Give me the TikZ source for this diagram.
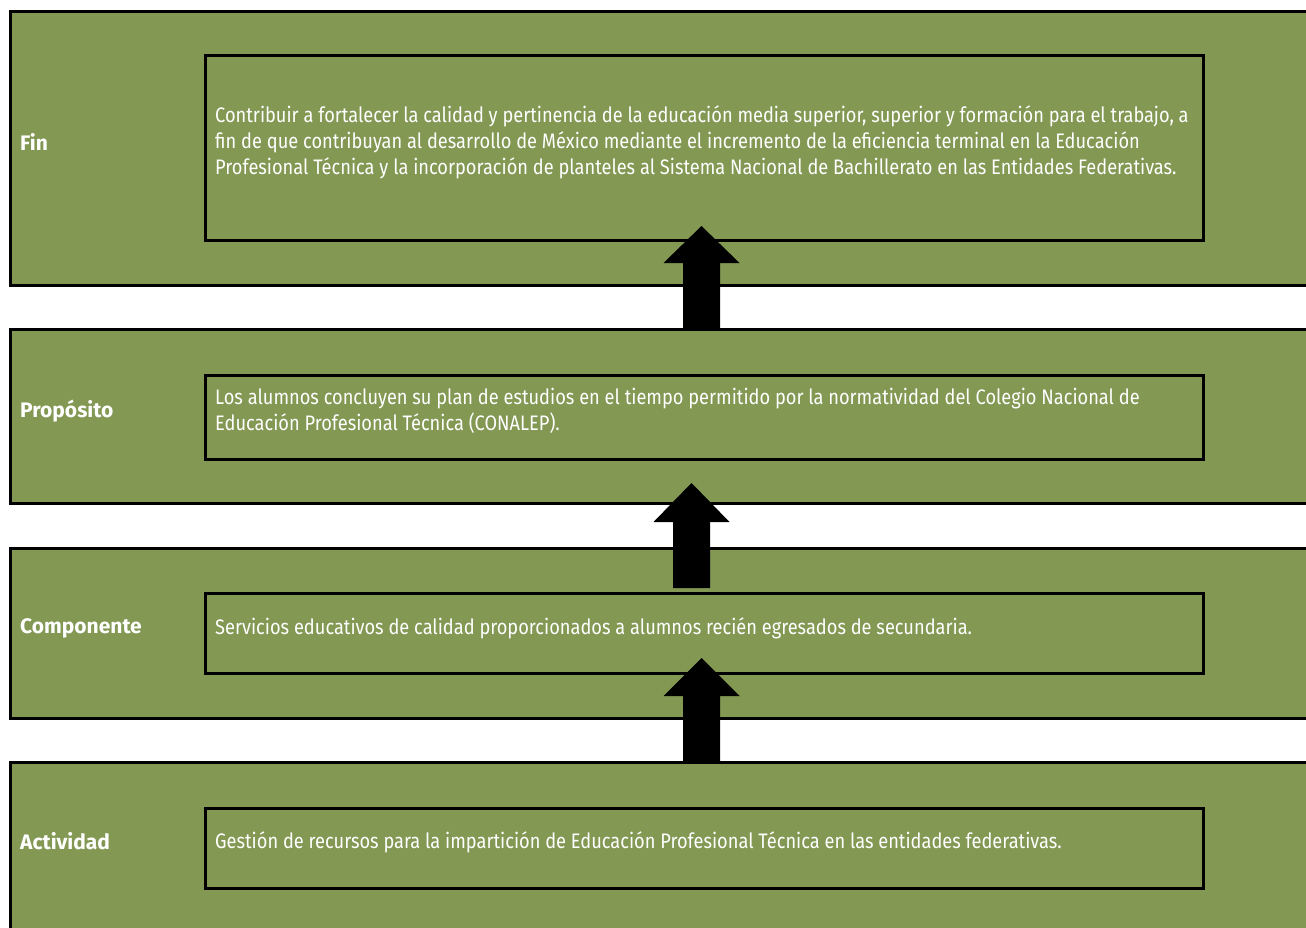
\documentclass[tikz,border=0pt]{standalone}
\usepackage{fontspec}
\setmainfont{Fira Sans}[FakeStretch=0.868]
\newfontfamily\labelfamily{Fira Sans}[FakeStretch=1.0]
\definecolor{bandgreen}{RGB}{130,152,83}
\newcommand{\blockuparrow}[4]{%
  \fill[black] (#1,#2) -- (#1+38,#3) -- (#1+18.5,#3) -- (#1+18.5,#4) -- (#1-18.5,#4) -- (#1-18.5,#3) -- (#1-38,#3) -- cycle;}
\begin{document}
\begin{tikzpicture}[x=1pt,y=-1pt,
  band/.style={draw=black, fill=bandgreen, line width=3pt, inner sep=0pt, outer sep=0pt, anchor=north west, minimum width=1320pt},
  inbox/.style={draw=black, line width=3pt, inner sep=0pt, outer sep=0pt, anchor=north west, minimum width=998pt},
  lab/.style={text=white, font=\labelfamily\fontsize{21}{25.5}\selectfont\bfseries, anchor=west, inner sep=0pt},
  txt/.style={text=white, font=\fontsize{21}{26}\selectfont, anchor=west, align=left, inner sep=0pt}]
\useasboundingbox (0,0) rectangle (1306,928);
\clip (0,0) rectangle (1306,928);
% bands
\node[band, minimum height=273pt] (band1) at (10.5,12) {};
\node[band, minimum height=174pt] (band2) at (10.5,329.5) {};
\node[band, minimum height=170pt] (band3) at (10.5,548) {};
\node[band, minimum height=190pt] (band4) at (10.5,762.5) {};
% inner boxes
\node[inbox, minimum height=184.5pt] (box1) at (205.5,55.5) {};
\node[inbox, minimum height=84pt] (box2) at (205.5,375) {};
\node[inbox, minimum height=80pt] (box3) at (205.5,593.5) {};
\node[inbox, minimum height=80pt] (box4) at (205.5,808) {};
% labels
\node[lab] (lfin) at (20,141.5) {Fin};
\node[lab] (lprop) at (20,411) {Propósito};
\node[lab] (lcomp) at (20,628) {Componente};
\node[lab] (lact) at (20,841) {Actividad};
% texts
\node[txt] (tfin) at (215,142.5) {Contribuir a fortalecer la calidad y pertinencia de la educación media superior, superior y formación para el trabajo, a\\fin de que contribuyan al desarrollo de México mediante el incremento de la eficiencia terminal en la Educación\\Profesional Técnica y la incorporación de planteles al Sistema Nacional de Bachillerato en las Entidades Federativas.};
\node[txt] (tprop) at (215,410.5) {Los alumnos concluyen su plan de estudios en el tiempo permitido por la normatividad del Colegio Nacional de\\Educación Profesional Técnica (CONALEP).};
\node[txt] (tcomp) at (215,628) {Servicios educativos de calidad proporcionados a alumnos recién egresados de secundaria.};
\node[txt] (tact) at (215,842) {Gestión de recursos para la impartición de Educación Profesional Técnica en las entidades federativas.};
% arrows
\blockuparrow{701.5}{226}{263}{329}
\blockuparrow{691.5}{483}{522}{588}
\blockuparrow{701.5}{658}{696}{762}
\end{tikzpicture}
\end{document}
